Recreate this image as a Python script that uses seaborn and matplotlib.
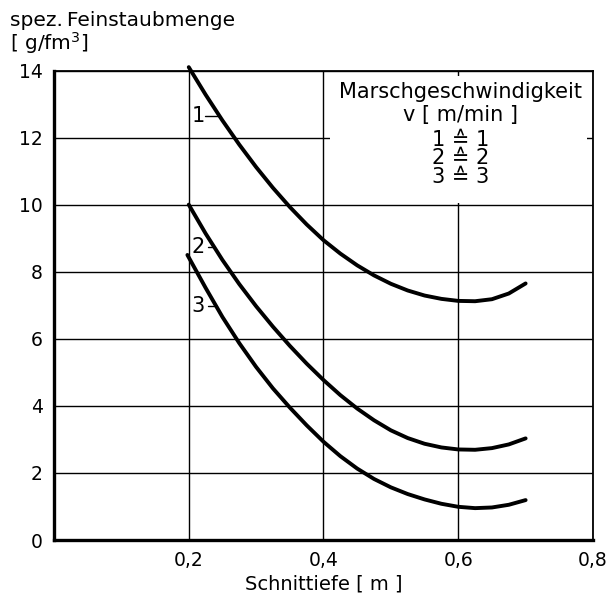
import numpy as np
import pandas as pd
import matplotlib
matplotlib.use("Agg")
import matplotlib.pyplot as plt
from matplotlib.patches import Rectangle
import seaborn as sns

# ---- data ----
x1 = [0.200, 0.225, 0.250, 0.275, 0.300, 0.325, 0.350, 0.375, 0.400, 0.425, 0.450,
      0.475, 0.500, 0.525, 0.550, 0.575, 0.600, 0.625, 0.650, 0.675, 0.700]
y1 = [14.1, 13.28, 12.51, 11.79, 11.12, 10.5, 9.93, 9.41, 8.94, 8.54, 8.19,
      7.89, 7.64, 7.44, 7.29, 7.19, 7.13, 7.12, 7.18, 7.35, 7.65]
x2 = [0.200, 0.225, 0.250, 0.275, 0.300, 0.325, 0.350, 0.375, 0.400, 0.425, 0.450,
      0.475, 0.500, 0.525, 0.550, 0.575, 0.600, 0.625, 0.650, 0.675, 0.700]
y2 = [10.0, 9.14, 8.35, 7.63, 6.97, 6.36, 5.79, 5.26, 4.77, 4.32, 3.92,
      3.57, 3.27, 3.04, 2.87, 2.76, 2.70, 2.69, 2.74, 2.85, 3.03]
x3 = [0.198, 0.225, 0.250, 0.275, 0.300, 0.325, 0.350, 0.375, 0.400, 0.425, 0.450,
      0.475, 0.500, 0.525, 0.550, 0.575, 0.600, 0.625, 0.650, 0.675, 0.700]
y3 = [8.5, 7.52, 6.65, 5.87, 5.16, 4.52, 3.95, 3.42, 2.93, 2.50, 2.13,
      1.82, 1.57, 1.37, 1.21, 1.08, 0.99, 0.95, 0.97, 1.05, 1.19]
series_names = ["1", "2", "3"]
x_ticks = [0.2, 0.4, 0.6, 0.8]
x_tick_labels = ["0,2", "0,4", "0,6", "0,8"]
y_ticks = [0, 2, 4, 6, 8, 10, 12, 14]
y_tick_labels = ["0", "2", "4", "6", "8", "10", "12", "14"]
legend_lines = ["Marschgeschwindigkeit", "v [ m/min ]", "1 \u2259 1", "2 \u2259 2", "3 \u2259 3"]

df = pd.concat([
    pd.DataFrame({"x": x1, "y": y1, "s": series_names[0]}),
    pd.DataFrame({"x": x2, "y": y2, "s": series_names[1]}),
    pd.DataFrame({"x": x3, "y": y3, "s": series_names[2]}),
], ignore_index=True)

sns.set_style("white")
plt.rcParams["font.family"] = ["DejaVu Sans"]
plt.rcParams["text.color"] = "black"
plt.rcParams["axes.labelcolor"] = "black"
plt.rcParams["xtick.color"] = "black"
plt.rcParams["ytick.color"] = "black"

fig = plt.figure(figsize=(6.11, 5.99), dpi=100, facecolor="white")
ax = fig.add_axes([54 / 611, 1 - 540 / 599, 539 / 611, 469.5 / 599])

sns.lineplot(data=df, x="x", y="y", hue="s", units="s", estimator=None, sort=False,
             palette=["black"] * 3, linewidth=2.8, legend=False, ax=ax, zorder=4,
             clip_on=False)
for ln in ax.lines:
    ln.set_solid_joinstyle("round")
    ln.set_solid_capstyle("round")

ax.set_xlim(0, 0.8)
ax.set_ylim(0, 14)
ax.set_xticks(x_ticks)
ax.set_xticklabels(x_tick_labels, fontsize=13.5)
ax.set_yticks(y_ticks)
ax.set_yticklabels(y_tick_labels, fontsize=13.5)
ax.tick_params(length=0, pad=8)
ax.grid(True, color="black", linewidth=1.0)
ax.set_axisbelow(True)

for side in ["left", "bottom"]:
    ax.spines[side].set_linewidth(2.4)
    ax.spines[side].set_color("black")
for side in ["top", "right"]:
    ax.spines[side].set_linewidth(1.3)
    ax.spines[side].set_color("black")

ax.set_xlabel("Schnittiefe [ m ]", fontsize=14, labelpad=3)
ax.set_ylabel("")
fig.text(10 / 611, 1 - 20 / 599, "spez.\u2009Feinstaubmenge", fontsize=14.5,
         ha="left", va="center")
fig.text(10 / 611, 1 - 43 / 599, "[ g/fm$^3$]", fontsize=14.5, ha="left", va="center")

# white area of the legend block covering the grid
ax.add_patch(Rectangle((0.512, 0.718), 0.477, 0.27, transform=ax.transAxes,
                       facecolor="white", edgecolor="none", zorder=2))
leg_y = [0.954, 0.905, 0.852, 0.813, 0.773]
for txt, yy in zip(legend_lines, leg_y):
    ax.text(0.755, yy, txt, transform=ax.transAxes, ha="center", va="center",
            fontsize=15, zorder=3)

# curve labels with leader lines
lab_pos = [(0.214, 12.63, 0.224, 0.243), (0.214, 8.75, 0.2286, 0.2375), (0.214, 6.98, 0.2286, 0.2419)]
for name, (tx, ty, l0, l1) in zip(series_names, lab_pos):
    ax.text(tx, ty, name, ha="center", va="center", fontsize=15, zorder=5)
    ax.plot([l0, l1], [ty, ty], color="black", linewidth=1.0, zorder=5)

fig.savefig("out.png", dpi=100, facecolor="white")
